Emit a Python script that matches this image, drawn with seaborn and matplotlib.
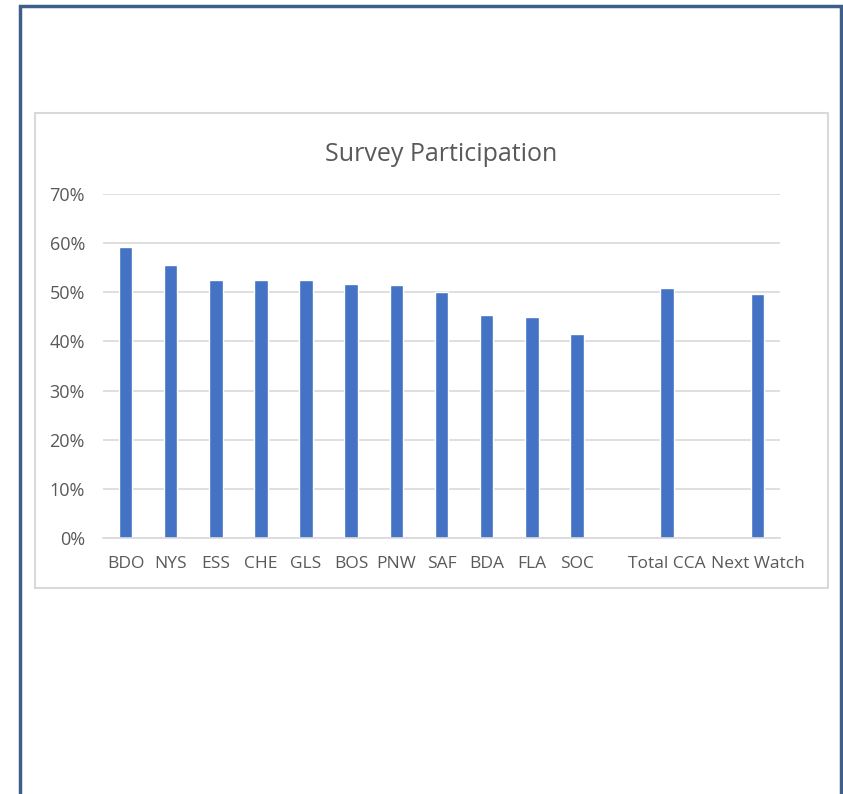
import matplotlib
matplotlib.use("Agg")
import matplotlib.pyplot as plt
import seaborn as sns
import pandas as pd
from matplotlib.patches import Rectangle
from matplotlib.ticker import PercentFormatter

# values
regions = ["BDO", "NYS", "ESS", "CHE", "GLS", "BOS", "PNW", "SAF", "BDA", "FLA", "SOC",
           "Total CCA", "Next Watch"]
participation = [0.592, 0.556, 0.525, 0.525, 0.525, 0.516, 0.514, 0.501, 0.453, 0.449, 0.415,
                 0.509, 0.497]
# empty slots between the groups
order = regions[:11] + [" "] + ["Total CCA"] + ["  "] + ["Next Watch"]

df = pd.DataFrame({"region": regions, "share": participation})

sns.set_theme(style="white")
plt.rcParams["font.family"] = ["Open Sans", "DejaVu Sans"]

fig = plt.figure(figsize=(8.43, 7.94), dpi=100)
ax = fig.add_axes([0.1222, 0.3224, 0.8031, 0.4333])

sns.barplot(data=df, x="region", y="share", order=order, color="#4472C4",
            width=0.3, saturation=1, ax=ax)

ax.set_ylim(0, 0.70)
ax.set_yticks([i / 10 for i in range(8)])
ax.yaxis.set_major_formatter(PercentFormatter(1.0, decimals=0))
ax.grid(axis="y", color="#D9D9D9", linewidth=1.2)
ax.set_axisbelow(True)
for s in ["top", "right", "left"]:
    ax.spines[s].set_visible(False)
ax.spines["bottom"].set_color("#D9D9D9")
ax.spines["bottom"].set_linewidth(1.2)
ax.set_xlabel("")
ax.set_ylabel("")
ax.tick_params(axis="x", length=0, pad=13, labelsize=12.5, labelcolor="#595959")
ax.tick_params(axis="y", length=0, pad=13, labelsize=13, labelcolor="#595959")
ax.set_title("Survey Participation", fontsize=18, color="#595959", pad=24)

# chart box and outer frame
fig.patches.append(Rectangle((0.0415, 0.2594), 0.9407, 0.5982, transform=fig.transFigure,
                             fill=False, edgecolor="#D9D9D9", linewidth=1.5))
fig.patches.append(Rectangle((0.0237, -0.02), 0.9743, 1.013, transform=fig.transFigure,
                             fill=False, edgecolor="#3E5F8A", linewidth=2.5))

fig.savefig("out.png", dpi=100)
